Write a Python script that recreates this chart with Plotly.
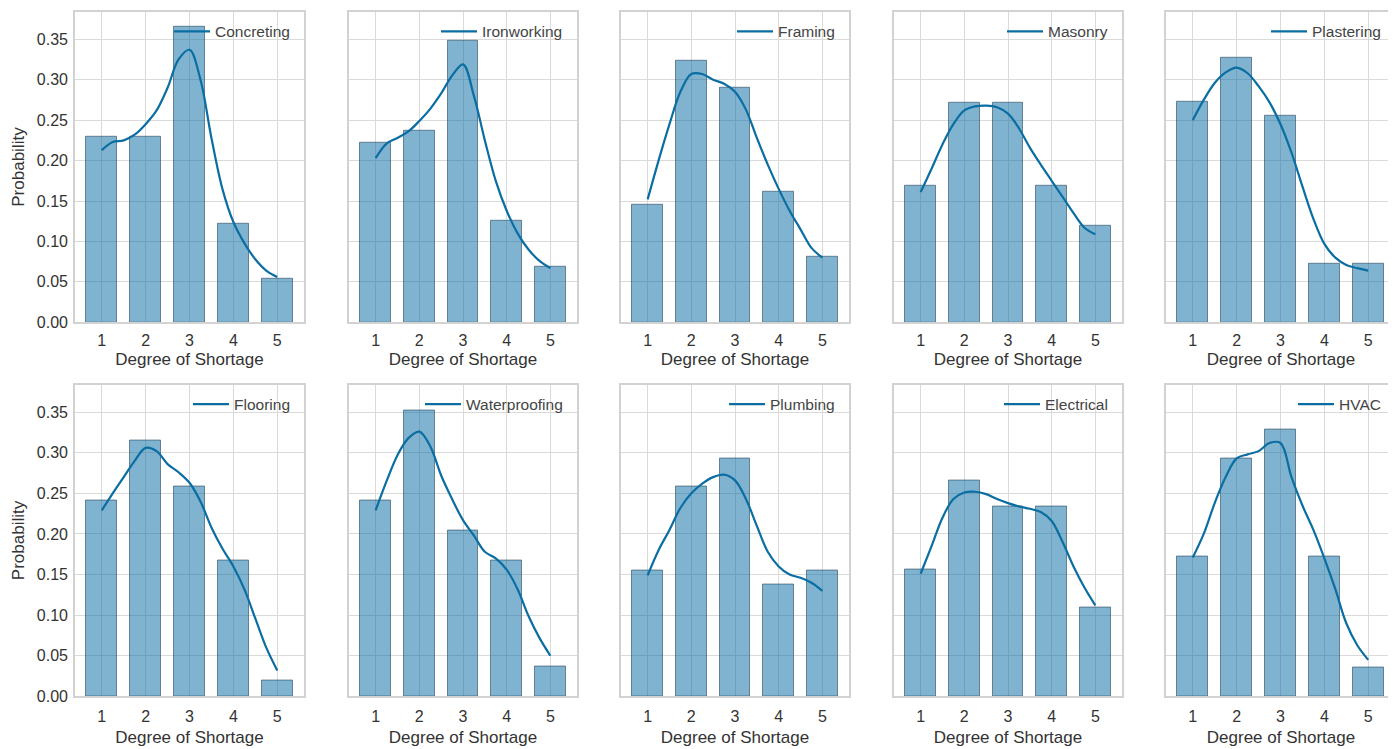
import plotly.graph_objects as go

# ---------------- data ----------------
degrees = [1, 2, 3, 4, 5]
trades = ["Concreting", "Ironworking", "Framing", "Masonry", "Plastering",
          "Flooring", "Waterproofing", "Plumbing", "Electrical", "HVAC"]

# bar heights (probability of each degree of shortage)
concreting = [0.230, 0.230, 0.365, 0.122, 0.054]
ironworking = [0.222, 0.237, 0.348, 0.125, 0.069]
framing = [0.145, 0.323, 0.290, 0.161, 0.081]
masonry = [0.169, 0.271, 0.271, 0.169, 0.119]
plastering = [0.273, 0.327, 0.255, 0.073, 0.073]
flooring = [0.241, 0.315, 0.259, 0.167, 0.019]
waterproofing = [0.241, 0.352, 0.204, 0.167, 0.037]
plumbing = [0.155, 0.259, 0.293, 0.138, 0.155]
electrical = [0.156, 0.266, 0.234, 0.234, 0.110]
hvac = [0.172, 0.293, 0.328, 0.172, 0.035]

# smoothed density curves
kde_x = [1.0, 1.25, 1.5, 1.75, 2.0, 2.25, 2.5, 2.75, 3.0,
         3.25, 3.5, 3.75, 4.0, 4.25, 4.5, 4.75, 5.0]
concreting_kde = [0.213, 0.223, 0.225, 0.232, 0.245, 0.262, 0.290, 0.325, 0.337,
                  0.300, 0.228, 0.165, 0.124, 0.098, 0.078, 0.064, 0.056]
ironworking_kde = [0.203, 0.221, 0.228, 0.236, 0.249, 0.264, 0.283, 0.305, 0.319,
                   0.280, 0.225, 0.175, 0.138, 0.110, 0.090, 0.076, 0.067]
framing_kde = [0.152, 0.200, 0.245, 0.285, 0.307, 0.307, 0.300, 0.295, 0.285,
               0.263, 0.228, 0.195, 0.165, 0.138, 0.115, 0.092, 0.080]
masonry_kde = [0.161, 0.190, 0.220, 0.245, 0.262, 0.267, 0.268, 0.266, 0.258,
               0.240, 0.216, 0.195, 0.175, 0.155, 0.135, 0.117, 0.109]
plastering_kde = [0.250, 0.275, 0.296, 0.309, 0.315, 0.308, 0.292, 0.272, 0.245,
                  0.210, 0.168, 0.128, 0.097, 0.080, 0.071, 0.067, 0.064]
flooring_kde = [0.229, 0.250, 0.270, 0.290, 0.306, 0.302, 0.286, 0.276, 0.263,
                0.240, 0.208, 0.182, 0.160, 0.132, 0.096, 0.060, 0.032]
waterproofing_kde = [0.229, 0.265, 0.297, 0.318, 0.326, 0.308, 0.272, 0.243, 0.217,
                     0.198, 0.178, 0.170, 0.156, 0.132, 0.099, 0.072, 0.050]
plumbing_kde = [0.149, 0.180, 0.205, 0.232, 0.250, 0.262, 0.270, 0.273, 0.266,
                0.243, 0.210, 0.178, 0.160, 0.150, 0.146, 0.140, 0.130]
electrical_kde = [0.151, 0.185, 0.220, 0.243, 0.251, 0.252, 0.249, 0.243, 0.238,
                  0.234, 0.231, 0.227, 0.216, 0.190, 0.160, 0.134, 0.112]
hvac_kde = [0.171, 0.200, 0.238, 0.270, 0.293, 0.298, 0.302, 0.312, 0.312,
            0.270, 0.235, 0.205, 0.170, 0.132, 0.090, 0.063, 0.045]

bars = [concreting, ironworking, framing, masonry, plastering,
        flooring, waterproofing, plumbing, electrical, hvac]
curves = [concreting_kde, ironworking_kde, framing_kde, masonry_kde, plastering_kde,
          flooring_kde, waterproofing_kde, plumbing_kde, electrical_kde, hvac_kde]

y_ticks = [0.00, 0.05, 0.10, 0.15, 0.20, 0.25, 0.30, 0.35]

# ---------------- layout geometry ----------------
OFF = 8            # default body margin of the page
W, H = 1388, 749   # figure size
VS = 757 / 749     # vertical page/picture ratio
col_px = [(75, 304), (349, 577), (621, 849), (894, 1122), (1166, 1395)]
row_px = [(11.7, 322.7), (385, 697.3)]
row_ticklen = [3, 5]
row_standoff = [5, 7]
X_LO, X_HI = 0.39, 5.61
px_per_unit = (col_px[0][1] - col_px[0][0]) / (X_HI - X_LO)


def fx(p):
    return (p - OFF) / W


def fy(p):
    return 1 - (p * VS - OFF) / H


FONT = "Liberation Sans, Arial, sans-serif"
BAR_FILL = "rgba(10,110,165,0.52)"
BAR_EDGE = "rgba(40,70,92,0.6)"
LINE_COL = "#0b6ea3"
GRID = "#dadada"
FRAME = "#d2d2d2"
TXT = "#333333"
CLEAR = "rgba(0,0,0,0)"

fig = go.Figure()
layout = {}
for i, (name, vals, kde) in enumerate(zip(trades, bars, curves)):
    r, c = divmod(i, 5)
    n = "" if i == 0 else str(i + 1)
    xa, ya = "x" + n, "y" + n
    leg = "legend" + n
    fig.add_trace(go.Bar(
        x=degrees, y=vals, width=0.7, xaxis=xa, yaxis=ya, showlegend=False,
        marker=dict(color=BAR_FILL, line=dict(color=BAR_EDGE, width=1)),
        name=name))
    fig.add_trace(go.Scatter(
        x=kde_x, y=kde, mode="lines", xaxis=xa, yaxis=ya, name=name,
        legend=leg, showlegend=True,
        line=dict(color=LINE_COL, width=2.2, shape="spline", smoothing=1.0)))

    x0, x1 = col_px[c]
    last = (c == 4)
    x1v = OFF + W if last else x1
    x_hi = X_HI + (x1v - x1) / px_per_unit
    ytop, ybot = row_px[r]
    xd = [fx(x0), min(fx(x1v), 1.0)]
    yd = [fy(ybot), fy(ytop)]
    layout["xaxis" + n] = dict(
        domain=xd, anchor=ya, range=[X_LO, x_hi], tickvals=degrees,
        showgrid=True, gridcolor=GRID, gridwidth=1.4,
        showline=True, linecolor=FRAME, linewidth=1.6, mirror=True,
        zeroline=False, ticks="outside", ticklen=row_ticklen[r], tickcolor=CLEAR,
        tickfont=dict(size=16, color=TXT),
        title=dict(text="Degree of Shortage", font=dict(size=17, color=TXT),
                   standoff=row_standoff[r]))
    layout["yaxis" + n] = dict(
        domain=yd, anchor=xa, range=[0, 0.384], tickvals=y_ticks,
        tickformat=".2f", showticklabels=(c == 0),
        showgrid=True, gridcolor=GRID, gridwidth=1.4,
        showline=True, linecolor=FRAME, linewidth=1.6,
        mirror=(not last),
        zeroline=False, ticks="outside" if c == 0 else "", ticklen=2,
        tickcolor=CLEAR, tickfont=dict(size=16, color=TXT),
        title=dict(text="Probability" if c == 0 else "",
                   font=dict(size=17, color=TXT), standoff=8))
    layout[leg] = dict(
        x=fx(x1 - 9), xanchor="right", y=fy(ytop + 3), yanchor="top",
        bgcolor=CLEAR, borderwidth=0, itemwidth=36,
        font=dict(size=15.5, color="#444444", family=FONT),
        itemclick=False, itemdoubleclick=False)

fig.update_layout(**layout)
fig.update_layout(
    width=W, height=H, margin=dict(l=0, r=0, t=0, b=0),
    paper_bgcolor="white", plot_bgcolor="white",
    font=dict(family=FONT, color=TXT),
    barmode="overlay", bargap=0)

fig.write_html("out.html")
